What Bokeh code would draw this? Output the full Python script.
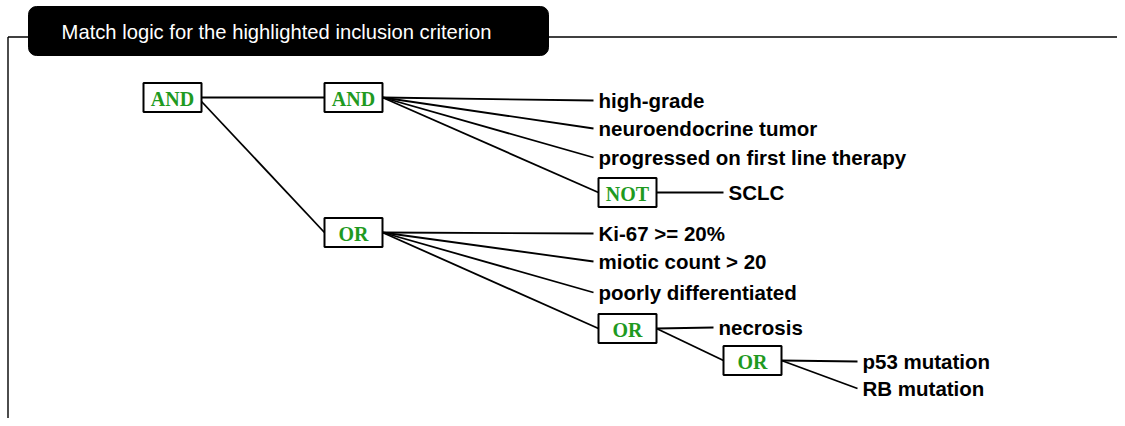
from bokeh.plotting import figure
from bokeh.models import Range1d, ColumnDataSource
from bokeh.core.properties import value
from bokeh.embed import file_html
from bokeh.resources import INLINE

# ---- content / tree structure ----
title_text = "Match logic for the highlighted inclusion criterion"

op_ids     = ["and1", "and2", "not1", "or1", "or2", "or3"]
op_labels  = ["AND", "AND", "NOT", "OR", "OR", "OR"]
op_parents = [None, "and1", "and2", "and1", "or1", "or2"]

leaf_labels  = ["high-grade", "neuroendocrine tumor", "progressed on first line therapy",
                "SCLC", "Ki-67 >= 20%", "miotic count > 20", "poorly differentiated",
                "necrosis", "p53 mutation", "RB mutation"]
leaf_parents = ["and2", "and2", "and2", "not1", "or1", "or1", "or1", "or2", "or3", "or3"]

# ---- layout (diagram pixel coordinates) ----
op_x = {"and1": 172, "and2": 353, "not1": 627, "or1": 353, "or2": 627, "or3": 752}
op_y = {"and1": 97, "and2": 97, "not1": 192, "or1": 232, "or2": 328, "or3": 360}
leaf_x = [598, 598, 598, 728, 598, 598, 598, 718, 862, 862]
leaf_y = [100, 128, 157, 192, 233, 261, 292, 327, 361, 388]
BW, BH = 29, 14.5   # half box sizes
GREEN = "#1f9a1f"

W, H = 1117, 418
p = figure(width=W, height=H, x_range=Range1d(0, W), y_range=Range1d(H, 0),
           output_backend="svg", toolbar_location=None, min_border=0)
p.axis.visible = False
p.grid.visible = False
p.outline_line_color = None
p.background_fill_color = "white"
p.border_fill_color = "white"

# frame lines
p.segment(x0=[7.5, 7.5], y0=[36.5, 36.5], x1=[1125, 7.5], y1=[36.5, 426],
          line_color="black", line_width=1.4)

# title box
p.quad(left=[28], right=[548], top=[6], bottom=[55], fill_color="black",
       line_color="black", border_radius=8)
p.text(x=[276], y=[31], text=[title_text], text_color="white",
       text_font=value("Liberation Sans"), text_font_size="20.2px",
       text_align="center", text_baseline="middle")

# edges
x0, y0, x1, y1 = [], [], [], []
for oid, par in zip(op_ids, op_parents):
    if par is None:
        continue
    x0.append(op_x[par] + BW); y0.append(op_y[par] + (4 if par == "and1" and oid == "or1" else 0))
    x1.append(op_x[oid] - BW); y1.append(op_y[oid])
for lx, ly, par in zip(leaf_x, leaf_y, leaf_parents):
    x0.append(op_x[par] + BW); y0.append(op_y[par])
    x1.append(lx - 5); y1.append(ly)
p.segment(x0=x0, y0=y0, x1=x1, y1=y1, line_color="black", line_width=1.8)

# operator boxes
src = ColumnDataSource(dict(
    l=[op_x[i] - BW for i in op_ids], r=[op_x[i] + BW for i in op_ids],
    t=[op_y[i] - BH for i in op_ids], b=[op_y[i] + BH for i in op_ids],
    x=[op_x[i] for i in op_ids], y=[op_y[i] + 1 for i in op_ids], lab=op_labels))
p.quad(left="l", right="r", top="t", bottom="b", source=src,
       fill_color="white", line_color="black", line_width=2)
p.text(x="x", y="y", text="lab", source=src, text_color=GREEN,
       text_font=value("Liberation Serif"), text_font_style="bold",
       text_font_size="20px", text_align="center", text_baseline="middle")

# leaf labels
p.text(x=leaf_x, y=leaf_y, text=leaf_labels, text_color="black",
       text_font=value("Liberation Sans"), text_font_style="bold",
       text_font_size="20.5px", text_align="left", text_baseline="middle")

open("out.html", "w").write(file_html(p, INLINE))
